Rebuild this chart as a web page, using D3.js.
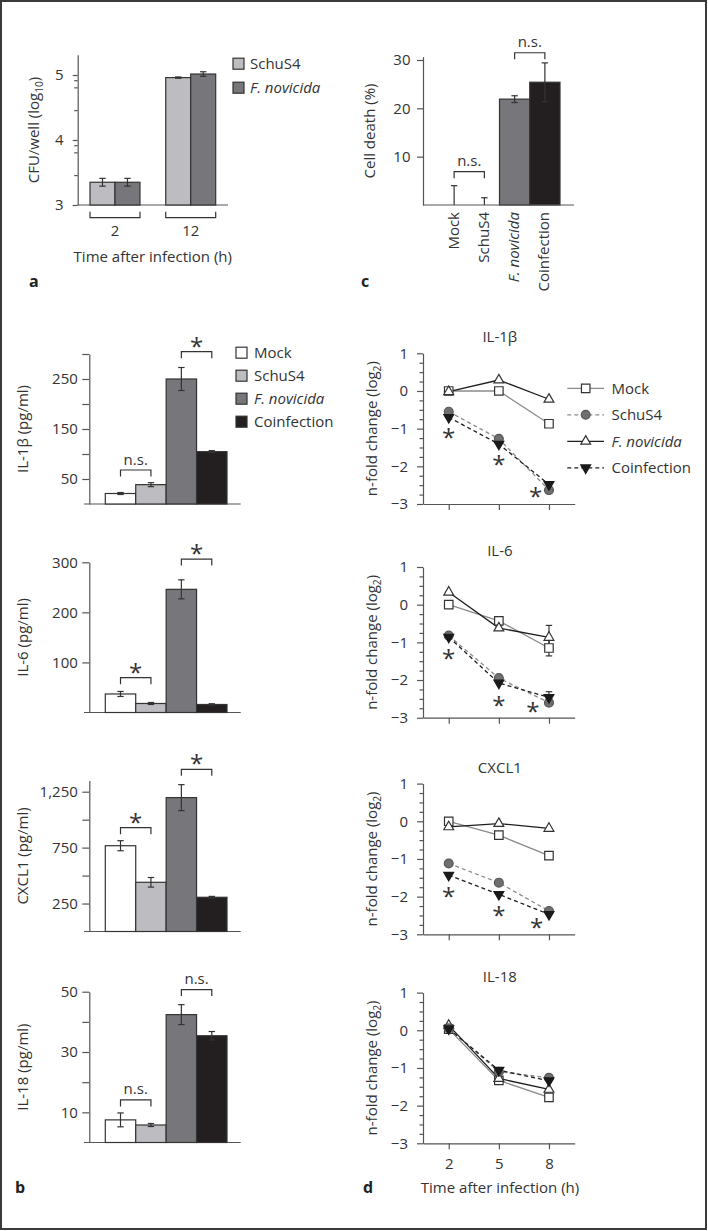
<!DOCTYPE html>
<html><head><meta charset="utf-8">
<script src="https://cdn.jsdelivr.net/npm/d3@7"></script>
<style>html,body{margin:0;padding:0;background:#fff;}svg{display:block;}</style>
</head><body>
<svg id="chart" width="708" height="1231"></svg>
<script>
// ---------------- DATA ----------------
const groups = ["Mock", "SchuS4", "F. novicida", "Coinfection"];

// panel a
const cfuTimes = ["2", "12"];
const cfuSeries = ["SchuS4", "F. novicida"];
const cfuSchuS4 = [3.35, 4.96];
const cfuSchuS4Err = [0.06, 0.01];
const cfuFnovicida = [3.35, 5.015];
const cfuFnovicidaErr = [0.06, 0.035];
const cfuTicks = [3, 4, 5];
const cfuMinorTicks = [3.46, 3.81, 3.92, 4.46, 4.81, 4.92];

// panel c
const cellDeath = [0, 0, 21.9, 25.4];
const cellDeathErr = [4.0, 1.5, 0.7, 4.0];
const cellDeathTicks = [10, 20, 30];

// panel b
const il1b = [21, 38.7, 250, 104.7];
const il1bErr = [2, 4, 23, 2];
const il1bTicks = [50, 100, 150, 200, 250, 300];
const il1bTickLabels = [50, 150, 250];
const il6 = [37, 18, 246, 16];
const il6Err = [5, 2, 19, 1.5];
const il6Ticks = [100, 200, 300];
const il6TickLabels = [100, 200, 300];
const cxcl1 = [767, 440, 1197, 306];
const cxcl1Err = [45, 43, 116, 8];
const cxcl1Ticks = [250, 500, 750, 1000, 1250];
const cxcl1TickLabels = [250, 750, 1250];
const il18 = [7.5, 5.8, 42.4, 35.4];
const il18Err = [2.3, 0.5, 3.3, 1.4];
const il18Ticks = [10, 20, 30, 40, 50];
const il18TickLabels = [10, 30, 50];

// panel d
const timePoints = [2, 5, 8];
const foldTicks = [-3, -2, -1, 0, 1];
const il1bMock = [0, 0, -0.87];
const il1bSchuS4 = [-0.55, -1.27, -2.63];
const il1bFnovicida = [-0.02, 0.29, -0.22];
const il1bCoinfection = [-0.7, -1.41, -2.48];
const il6Mock = [0, -0.43, -1.15];
const il6MockErr = [0, 0, 0.21];
const il6SchuS4 = [-0.82, -1.95, -2.6];
const il6Fnovicida = [0.33, -0.62, -0.87];
const il6FnovicidaErr = [0, 0, 0.32];
const il6Coinfection = [-0.86, -2.08, -2.46];
const il6CoinfectionErr = [0, 0, 0.15];
const cxcl1Mock = [0, -0.37, -0.91];
const cxcl1SchuS4 = [-1.12, -1.63, -2.38];
const cxcl1Fnovicida = [-0.15, -0.06, -0.19];
const cxcl1Coinfection = [-1.43, -1.94, -2.47];
const il18Mock = [0.03, -1.33, -1.78];
const il18SchuS4 = [0.05, -1.1, -1.26];
const il18Fnovicida = [0.13, -1.28, -1.57];
const il18Coinfection = [0.04, -1.06, -1.34];

// ---------------- STYLE ----------------
const FONT = "'Open Sans', sans-serif";
const TXT = "#333";
const AX = "#555";
const barFill = {"Mock": "#ffffff", "SchuS4": "#bdbdc1", "F. novicida": "#77777b", "Coinfection": "#231f20"};
const svg = d3.select("#chart");

svg.append("rect").attr("x", 1).attr("y", 1).attr("width", 705).attr("height", 1228)
  .attr("fill", "none").attr("stroke", "#3a3a3a").attr("stroke-width", 2);

function styleAxis(g) {
  g.attr("font-family", FONT).attr("font-size", 15);
  g.selectAll("path,line").attr("stroke", AX).attr("stroke-width", 1.2);
  g.selectAll("text").attr("fill", TXT);
}
function txt(x, y, s, o = {}) {
  return svg.append("text").attr("x", x).attr("y", y).text(s)
    .attr("font-family", FONT).attr("font-size", o.size || 15)
    .attr("text-anchor", o.anchor || "start")
    .attr("font-weight", o.weight || "normal")
    .attr("font-style", o.style || "normal")
    .attr("fill", o.fill || TXT);
}
function rich(sel, parts, size) {
  parts.forEach(p => {
    const ts = sel.append("tspan").text(p.t);
    if (p.sub) ts.attr("font-size", size * 0.68).attr("dy", 3.5);
    if (p.unsub) ts.attr("dy", -3.5);
  });
}
function rotLabel(cx, cy, parts) {
  const t = svg.append("text").attr("transform", `translate(${cx},${cy}) rotate(-90)`)
    .attr("text-anchor", "middle").attr("dy", "0.27em")
    .attr("font-family", FONT).attr("font-size", 15).attr("fill", TXT);
  rich(t, parts, 15);
}
function line(x1, y1, x2, y2, c = TXT, w = 1.2) {
  return svg.append("line").attr("x1", x1).attr("y1", y1).attr("x2", x2).attr("y2", y2)
    .attr("stroke", c).attr("stroke-width", w);
}
function errBar(cx, yHi, yLo, lowCap = true, c = "#333") {
  line(cx, yHi, cx, yLo, c, 1.2);
  line(cx - 3.2, yHi, cx + 3.2, yHi, c, 1.2);
  if (lowCap) line(cx - 3.2, yLo, cx + 3.2, yLo, c, 1.2);
}
function bracketDown(x1, x2, yy, label, star) {
  svg.append("path").attr("d", `M${x1},${yy + 6.5}V${yy}H${x2}V${yy + 6.5}`)
    .attr("fill", "none").attr("stroke", "#333").attr("stroke-width", 1.2);
  if (star) txt((x1 + x2) / 2, yy - 10 + 13, "*", {size: 24, anchor: "middle"});
  else txt((x1 + x2) / 2, yy - 10 + 4.5, label, {anchor: "middle"});
}
function asterisk(cx, cy) { txt(cx, cy + 13, "*", {size: 24, anchor: "middle"}); }

// ---------------- PANEL a ----------------
{
  const y = d3.scaleLinear().domain([3, 5.31]).range([205, 54.85]);
  const x = d3.scaleBand().domain(cfuTimes).range([77.7, 228]).paddingInner(0.34).paddingOuter(0.1625);
  const xs = d3.scaleBand().domain(cfuSeries).range([0, x.bandwidth()]);
  const vals = {"SchuS4": cfuSchuS4, "F. novicida": cfuFnovicida};
  const errs = {"SchuS4": cfuSchuS4Err, "F. novicida": cfuFnovicidaErr};
  svg.append("g").attr("transform", "translate(77.7,0)")
    .call(d3.axisLeft(y).tickValues(cfuTicks).tickSize(5).tickPadding(9).tickSizeOuter(0).tickFormat(d3.format("d")))
    .call(styleAxis);
  svg.append("g").attr("transform", "translate(77.7,0)")
    .call(d3.axisLeft(y).tickValues(cfuMinorTicks).tickSize(3.5).tickFormat(""))
    .call(styleAxis).call(g => g.select(".domain").remove());
  line(77.7, y(3), 228, y(3), AX);
  cfuTimes.forEach((t, i) => {
    cfuSeries.forEach(s => {
      const bx = x(t) + xs(s);
      svg.append("rect").attr("x", bx).attr("y", y(vals[s][i])).attr("width", xs.bandwidth())
        .attr("height", y(3) - y(vals[s][i])).attr("fill", barFill[s]).attr("stroke", "#333").attr("stroke-width", 1.2);
      const c = bx + xs.bandwidth() / 2;
      errBar(c, y(vals[s][i] + errs[s][i]), y(vals[s][i] - errs[s][i]));
    });
    const bx1 = x(t), bx2 = x(t) + x.bandwidth();
    svg.append("path").attr("d", `M${bx1},${y(3) + 6.7}V${y(3) + 12.7}H${bx2}V${y(3) + 6.7}`)
      .attr("fill", "none").attr("stroke", "#333").attr("stroke-width", 1.2);
    txt(x(t) + x.bandwidth() / 2, y(3) + 31, t, {anchor: "middle"});
  });
  txt(152.8, 262, "Time after infection (h)", {anchor: "middle"});
  rotLabel(35, 130, [{t: "CFU/well (log"}, {t: "10", sub: true}, {t: ")", unsub: true}]);
  cfuSeries.forEach((s, i) => {
    const cy = 63.7 + i * 24;
    svg.append("rect").attr("x", 233).attr("y", cy - 5.5).attr("width", 11).attr("height", 11)
      .attr("fill", barFill[s]).attr("stroke", "#333").attr("stroke-width", 1.2);
    txt(250, cy + 5.4, s, {style: s === "F. novicida" ? "italic" : "normal"});
  });
  txt(29, 287, "a", {size: 16, weight: "bold", fill: "#222"});
}

// ---------------- PANEL c ----------------
{
  const y = d3.scaleLinear().domain([0, 30.7]).range([205, 56.6]);
  const x = d3.scaleBand().domain(groups).range([439, 560]);
  svg.append("g").attr("transform", "translate(423,0)")
    .call(d3.axisLeft(y).tickValues(cellDeathTicks).tickSize(6).tickPadding(6.5).tickSizeOuter(0))
    .call(styleAxis);
  groups.forEach((gname, i) => {
    const v = cellDeath[i], e = cellDeathErr[i];
    const c = x(gname) + x.bandwidth() / 2;
    if (v > 0) svg.append("rect").attr("x", x(gname)).attr("y", y(v)).attr("width", x.bandwidth())
      .attr("height", y(0) - y(v)).attr("fill", barFill[gname]).attr("stroke", "#333").attr("stroke-width", 1.2);
    errBar(c, y(v + e), y(Math.max(0, v - e)), v - e > 0);
    svg.append("text").attr("transform", `translate(${c},${y(0) + 7}) rotate(-90)`)
      .attr("text-anchor", "end").attr("dy", "0.3em").attr("font-family", FONT).attr("font-size", 15)
      .attr("fill", TXT).attr("font-style", gname === "F. novicida" ? "italic" : "normal").text(gname);
  });
  line(423, y(0), 574, y(0), AX);
  const cx = g => x(g) + x.bandwidth() / 2;
  bracketDown(cx("Mock"), cx("SchuS4"), y(6.9), "n.s.");
  bracketDown(cx("F. novicida"), cx("Coinfection"), y(31.5), "n.s.");
  rotLabel(370.7, 131, [{t: "Cell death (%)"}]);
  txt(361, 287, "c", {size: 16, weight: "bold", fill: "#222"});
}

// ---------------- PANEL b ----------------
function barPanel(cfg) {
  const y = d3.scaleLinear().domain(cfg.domain).range([cfg.y0, cfg.yTop]);
  const x = d3.scaleBand().domain(groups).range([105.3, 227]);
  svg.append("g").attr("transform", "translate(89.3,0)")
    .call(d3.axisLeft(y).tickValues(cfg.ticks).tickSize(7).tickPadding(4.5).tickSizeOuter(0)
      .tickFormat(d => cfg.labels.includes(d) ? d3.format(",")(d) : ""))
    .call(styleAxis);
  line(84, y(0), 240.7, y(0), AX);
  const cx = g => x(g) + x.bandwidth() / 2;
  groups.forEach((gname, i) => {
    const v = cfg.vals[i], e = cfg.errs[i];
    svg.append("rect").attr("x", x(gname)).attr("y", y(v)).attr("width", x.bandwidth())
      .attr("height", y(0) - y(v)).attr("fill", barFill[gname]).attr("stroke", "#333").attr("stroke-width", 1.2);
    errBar(cx(gname), y(v + e), y(v - e));
  });
  bracketDown(cx("Mock"), cx("SchuS4"), y(cfg.br1[0]), "n.s.", cfg.br1[1]);
  bracketDown(cx("F. novicida"), cx("Coinfection"), y(cfg.br2[0]), "n.s.", cfg.br2[1]);
  rotLabel(24, (cfg.y0 + y(cfg.domain[1])) / 2, cfg.label);
}
barPanel({domain: [0, 300], y0: 504, yTop: 354, ticks: il1bTicks, labels: il1bTickLabels, vals: il1b, errs: il1bErr,
  br1: [68, false], br2: [304.6, true], label: [{t: "IL-1β (pg/ml)"}]});
barPanel({domain: [0, 300], y0: 712.5, yTop: 562.3, ticks: il6Ticks, labels: il6TickLabels, vals: il6, errs: il6Err,
  br1: [69.6, true], br2: [306.4, true], label: [{t: "IL-6 (pg/ml)"}]});
barPanel({domain: [0, 1350], y0: 931.5, yTop: 931.5 - 1350 * 0.11184, ticks: cxcl1Ticks, labels: cxcl1TickLabels, vals: cxcl1, errs: cxcl1Err,
  br1: [928, true], br2: [1450, true], label: [{t: "CXCL1 (pg/ml)"}]});
barPanel({domain: [0, 50], y0: 1142.5, yTop: 991.7, ticks: il18Ticks, labels: il18TickLabels, vals: il18, errs: il18Err,
  br1: [14.1, false], br2: [50.7, false], label: [{t: "IL-18 (pg/ml)"}]});
groups.forEach((gname, i) => {
  const cy = 352.7 + i * 23;
  svg.append("rect").attr("x", 236).attr("y", cy - 5.5).attr("width", 11).attr("height", 11)
    .attr("fill", barFill[gname]).attr("stroke", "#333").attr("stroke-width", 1.2);
  txt(254, cy + 5.4, gname, {style: gname === "F. novicida" ? "italic" : "normal"});
});
txt(15, 1192.5, "b", {size: 16, weight: "bold", fill: "#222"});

// ---------------- PANEL d ----------------
const seriesStyle = {
  "Mock": {line: "#8a8a8a", dash: null, sym: d3.symbolSquare, size: 72, fill: "#fff", stroke: "#333", rot: 0},
  "F. novicida": {line: "#1e1e1e", dash: null, sym: d3.symbolTriangle, size: 42, fill: "#fff", stroke: "#333", rot: 0},
  "SchuS4": {line: "#8a8a8a", dash: "4,3", sym: d3.symbolCircle, size: 62, fill: "#6f6f72", stroke: "#555", rot: 0},
  "Coinfection": {line: "#1e1e1e", dash: "4,3", sym: d3.symbolTriangle, size: 42, fill: "#1a1a1a", stroke: "#1a1a1a", rot: 180}
};
const drawOrder = ["Mock", "F. novicida", "SchuS4", "Coinfection"];
function marker(s, px, py) {
  const st = seriesStyle[s];
  svg.append("path").attr("d", d3.symbol(st.sym, st.size)())
    .attr("transform", `translate(${px},${py}) rotate(${st.rot})`)
    .attr("fill", st.fill).attr("stroke", st.stroke).attr("stroke-width", 1.2);
}
function linePanel(cfg) {
  const y = d3.scaleLinear().domain([-3, 1]).range([cfg.y0, cfg.y0 - 150.7]);
  const x = d3.scaleLinear().domain([0.46, 9.54]).range([423, 574.7]);
  svg.append("g").attr("transform", "translate(423,0)")
    .call(d3.axisLeft(y).tickValues(foldTicks).tickSize(6).tickPadding(9).tickSizeOuter(0).tickFormat(d3.format("d")))
    .call(styleAxis);
  svg.append("g").attr("transform", "translate(423,0)")
    .call(d3.axisLeft(y).tickValues(d3.range(-2.75, 1, 0.25).filter(v => Math.abs(v % 1) > 0.01)).tickSize(3.5).tickFormat(""))
    .call(styleAxis).call(g => g.select(".domain").remove());
  svg.append("g").attr("transform", `translate(0,${y(-3)})`)
    .call(d3.axisBottom(x).tickValues(timePoints).tickSize(6).tickPadding(9).tickSizeOuter(0)
      .tickFormat(cfg.showX ? d3.format("d") : ""))
    .call(styleAxis);
  const lg = d3.line().x((d, i) => x(timePoints[i])).y(d => y(d));
  drawOrder.forEach(s => {
    const st = seriesStyle[s];
    svg.append("path").attr("d", lg(cfg.data[s])).attr("fill", "none").attr("stroke", st.line)
      .attr("stroke-width", 1.3).attr("stroke-dasharray", st.dash);
  });
  drawOrder.forEach(s => {
    const e = cfg.errs && cfg.errs[s];
    if (e) e.forEach((ev, i) => { if (ev > 0) errBar(x(timePoints[i]), y(cfg.data[s][i] + ev), y(cfg.data[s][i] - ev)); });
  });
  drawOrder.forEach(s => cfg.data[s].forEach((v, i) => marker(s, x(timePoints[i]), y(v))));
  if (cfg.stars) cfg.stars.forEach(p => asterisk(x(p[0]), y(p[1])));
  txt(x(5) + 1, y(1) - 11, cfg.title, {anchor: "middle"});
  rotLabel(373, cfg.y0 - 75.35, [{t: "n-fold change (log"}, {t: "2", sub: true}, {t: ")", unsub: true}]);
}
linePanel({y0: 504, title: "IL-1β",
  data: {"Mock": il1bMock, "SchuS4": il1bSchuS4, "F. novicida": il1bFnovicida, "Coinfection": il1bCoinfection},
  stars: [[2, -1.12], [5, -1.83], [7.2, -2.67]]});
linePanel({y0: 717.7, title: "IL-6",
  data: {"Mock": il6Mock, "SchuS4": il6SchuS4, "F. novicida": il6Fnovicida, "Coinfection": il6Coinfection},
  errs: {"Mock": il6MockErr, "F. novicida": il6FnovicidaErr, "Coinfection": il6CoinfectionErr},
  stars: [[2, -1.32], [5, -2.55], [7.04, -2.71]]});
linePanel({y0: 934.3, title: "CXCL1",
  data: {"Mock": cxcl1Mock, "SchuS4": cxcl1SchuS4, "F. novicida": cxcl1Fnovicida, "Coinfection": cxcl1Coinfection},
  stars: [[2, -1.89], [5, -2.38], [7.26, -2.71]]});
linePanel({y0: 1143.3, title: "IL-18", showX: true,
  data: {"Mock": il18Mock, "SchuS4": il18SchuS4, "F. novicida": il18Fnovicida, "Coinfection": il18Coinfection}});
groups.forEach((s, i) => {
  const cy = 388.3 + i * 26.5;
  const st = seriesStyle[s];
  line(567.3, cy, 604, cy, st.line, 1.3).attr("stroke-dasharray", st.dash);
  marker(s, 585.7, cy);
  txt(611.5, cy + 5.4, s, {style: s === "F. novicida" ? "italic" : "normal"});
});
txt(500, 1192.7, "Time after infection (h)", {anchor: "middle"});
txt(363, 1192.5, "d", {size: 16, weight: "bold", fill: "#222"});
</script>
</body></html>
